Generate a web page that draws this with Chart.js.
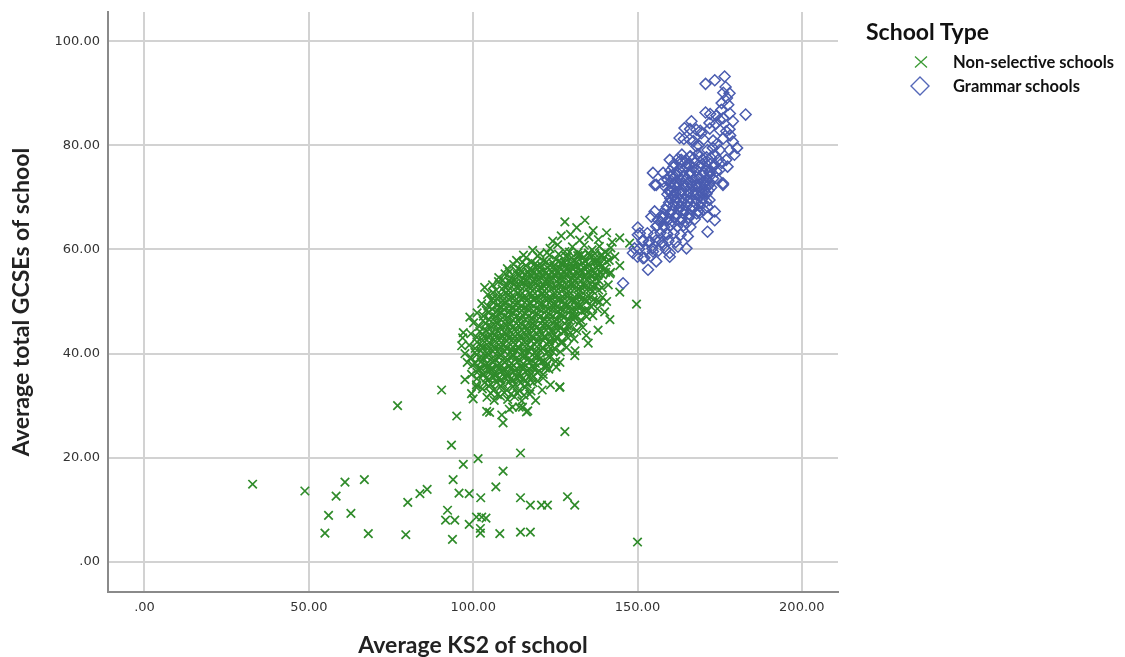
<!DOCTYPE html>
<html>
<head>
<meta charset="utf-8">
<title>Average KS2 vs GCSE by school type</title>
<script src="https://cdn.jsdelivr.net/npm/chart.js@4.4.1/dist/chart.umd.min.js"></script>
<style>
  html, body { margin: 0; padding: 0; background: #fff; }
  #wrap { position: relative; width: 1125px; height: 657px; }
  #legend { position: absolute; left: 0; top: 0; font-family: Lato, "Open Sans", sans-serif; color: #111; }
  #legend .title { position: absolute; left: 866px; top: 17px; font-size: 23px; font-weight: bold; line-height: 28px; white-space: nowrap; }
  #legend .item { position: absolute; left: 953px; font-size: 16.5px; font-weight: bold; line-height: 20px; white-space: nowrap; }
  #legend svg { position: absolute; }
</style>
</head>
<body>
<div id="wrap">
  <canvas id="scatterChart"></canvas>
  <div id="legend">
    <div class="title">School Type</div>
    <svg style="left:913px;top:54px" width="16" height="16"><path d="M2 2.5 L14 13.5 M14 2.5 L2 13.5" stroke="#3a9a33" stroke-width="1.3" fill="none"/></svg>
    <div class="item" style="top:52px">Non-selective schools</div>
    <svg style="left:909px;top:75px" width="22" height="22"><path d="M11 2 L20 11 L11 20 L2 11 Z" stroke="#5467b8" stroke-width="1.4" fill="none"/></svg>
    <div class="item" style="top:76px">Grammar schools</div>
  </div>
</div>
<script>
// ===== Data (x = average KS2, y = average total GCSEs) =====
const xTicks = [0, 50, 100, 150, 200];
const yTicks = [0, 20, 40, 60, 80, 100];

// outliers / low tail
const nonSelectiveOutliers = [
  [32.9,14.9],[48.8,13.6],[54.9,5.5],[56.0,8.9],[58.3,12.6],[61.0,15.3],[62.8,9.3],[66.9,15.8],[68.1,5.4],
  [77.0,30.0],[79.5,5.2],[80.1,11.4],[83.8,13.1],[86.0,13.9],[90.4,33.0],[92.2,9.9],[91.6,8.0],[93.7,4.3],
  [93.9,15.8],[95.0,28.0],[93.4,22.4],[94.4,8.0],[95.7,13.2],[97.0,18.7],[98.8,13.1],[98.8,7.2],[101.0,8.6],
  [101.5,19.8],[102.3,12.3],[102.6,8.6],[102.2,6.4],[102.2,5.5],[103.9,8.4],[104.1,28.9],[106.9,14.4],
  [108.1,5.4],[108.7,28.2],[109.1,26.7],[109.1,17.4],[114.4,20.9],[114.4,12.3],[114.4,5.7],[117.4,5.7],
  [117.4,10.9],[120.8,10.9],[122.6,10.9],[127.9,25.0],[128.7,12.5],[130.9,10.9],[150.0,3.8],[126.4,33.6],
  [116.2,28.8],[149.7,49.5],[147.6,61.2],[112.0,29.7],[115.0,29.7],[117.2,32.2],[122.3,37.7],[101.0,33.5]
];

// main cluster, read row by row
const nonSelectiveCluster = [
  [127.9,65.3],[134.0,65.6],[131.5,64.2],[136.5,63.6],
  [126.8,62.6],[129.6,62.9],[132.4,61.8],[135.2,62.4],[138.1,61.9],[140.6,63.2],[144.6,62.2],[124.2,61.6],[142.3,61.4],
  [118.1,59.8],[120.3,59.2],[123.4,60.2],[125.7,60.9],[127.9,59.6],[130.2,60.5],[131.9,59.4],[133.8,60.8],[136.2,59.9],[138.4,60.6],[140.1,59.5],[141.9,60.3],[115.3,58.9],
  [113.2,57.9],[116.1,58.4],[117.8,57.6],[119.6,58.7],[121.4,57.8],[123.2,58.9],[125.1,58.1],[126.9,57.4],[128.7,58.6],[130.6,57.9],[132.4,58.8],[134.1,57.7],[135.9,58.5],[137.8,57.6],[139.6,58.3],[141.4,57.9],[143.1,58.6],
  [110.4,56.3],[112.3,57.1],[114.1,56.2],[116.0,56.9],[117.9,56.1],[119.7,56.8],[121.5,56.0],[123.4,56.9],[125.2,56.2],[127.1,57.0],[128.9,56.3],[130.8,56.8],[132.6,56.0],[134.4,56.7],[136.3,56.1],[138.2,56.9],[140.0,56.2],[141.8,55.6],[144.6,56.9],
  [107.8,54.6],[109.7,55.3],[111.5,54.5],[113.4,55.2],[115.2,54.4],[117.1,55.1],[118.9,54.3],[120.8,55.0],[122.6,54.2],[124.5,55.1],[126.3,54.4],[128.2,55.2],[130.0,54.5],[131.9,55.3],[133.7,54.6],[135.6,55.2],[137.4,54.4],[139.3,55.1],[141.6,55.3],
  [105.9,53.2],[107.7,53.8],[109.6,53.0],[111.4,53.7],[113.3,52.9],[115.1,53.6],[117.0,52.8],[118.8,53.5],[120.7,52.7],[122.5,53.4],[124.4,52.6],[126.2,53.3],[128.1,52.5],[129.9,53.2],[131.8,52.4],[133.6,53.1],[135.5,52.3],[137.3,53.0],[139.2,52.6],[141.1,53.2],[103.5,52.7],
  [104.4,51.3],[106.0,51.7],[107.9,51.0],[109.8,51.6],[111.6,50.9],[113.5,51.5],[115.3,50.8],[117.2,51.4],[119.0,50.7],[120.9,51.3],[122.7,50.6],[124.6,51.2],[126.4,50.5],[128.3,51.1],[130.1,50.4],[132.0,51.0],[133.8,50.3],[135.7,50.9],[137.5,50.2],[139.4,50.8],[144.6,51.8],[106.0,50.6],
  [102.6,49.6],[104.5,49.1],[106.3,49.8],[108.2,49.0],[110.0,49.7],[111.9,48.9],[113.7,49.6],[115.6,48.8],[117.4,49.5],[119.3,48.7],[121.1,49.4],[123.0,48.6],[124.8,49.3],[126.7,48.5],[128.5,49.2],[130.4,48.4],[132.2,49.1],[134.1,48.3],[135.9,49.0],[137.8,48.6],[140.0,48.0],[140.6,50.0],
  [101.2,47.8],[103.1,47.2],[104.9,47.9],[106.8,47.1],[108.6,47.8],[110.5,47.0],[112.3,47.7],[114.2,46.9],[116.0,47.6],[117.9,46.8],[119.7,47.5],[121.6,46.7],[123.4,47.4],[125.3,46.6],[127.1,47.3],[129.0,46.5],[130.8,47.2],[132.7,46.4],[134.5,47.1],[136.4,47.3],[141.6,46.5],[99.0,47.0],
  [100.1,45.9],[101.9,45.2],[103.8,45.8],[105.6,45.1],[107.5,45.7],[109.3,45.0],[111.2,45.6],[113.0,44.9],[114.9,45.5],[116.7,44.8],[118.6,45.4],[120.4,44.7],[122.3,45.3],[124.1,44.6],[126.0,45.2],[127.8,44.5],[129.7,45.1],[131.5,44.4],[133.4,45.0],[138.0,44.5],
  [99.3,43.8],[101.1,43.1],[103.0,43.7],[104.8,43.0],[106.7,43.6],[108.5,42.9],[110.4,43.5],[112.2,42.8],[114.1,43.4],[115.9,42.7],[117.8,43.3],[119.6,42.6],[121.5,43.2],[123.3,42.5],[125.2,43.1],[127.0,42.4],[128.9,43.0],[130.7,42.8],[134.4,43.5],[97.0,44.0],[96.8,43.0],
  [98.8,41.6],[100.6,41.0],[102.5,41.6],[104.3,40.9],[106.2,41.5],[108.0,40.8],[109.9,41.4],[111.7,40.7],[113.6,41.3],[115.4,40.6],[117.3,41.2],[119.1,40.5],[121.0,41.1],[122.8,40.4],[124.7,41.0],[126.5,40.3],[128.4,41.2],[131.0,40.5],[135.0,42.0],[96.5,41.5],
  [97.5,40.0],[99.3,39.2],[101.1,39.8],[103.0,39.1],[104.8,39.7],[106.7,39.0],[108.5,39.6],[110.4,38.9],[112.2,39.5],[114.1,38.8],[115.9,39.4],[117.8,38.7],[119.6,39.3],[121.5,38.6],[123.3,39.2],[125.1,38.5],[126.4,38.3],[130.9,39.6],[98.2,38.3],
  [99.8,37.8],[101.6,37.1],[103.5,37.7],[105.3,37.0],[107.2,37.6],[109.0,36.9],[110.9,37.5],[112.7,36.8],[114.6,37.4],[116.4,36.7],[118.3,37.3],[120.1,36.6],[122.0,37.2],[123.0,37.0],[125.3,37.4],
  [99.5,36.0],[101.1,35.2],[103.0,35.8],[104.8,35.1],[106.7,35.7],[108.5,35.0],[110.4,35.6],[112.2,34.9],[114.1,35.5],[115.9,34.8],[117.8,35.4],[119.6,34.7],[121.3,35.3],[97.5,35.0],[123.5,34.0],
  [101.0,34.0],[102.8,33.2],[104.7,33.8],[106.5,33.1],[108.4,33.7],[110.2,33.0],[112.1,33.6],[113.9,32.9],[115.8,33.5],[117.6,32.8],[121.0,33.0],[126.3,33.5],[99.5,32.3],
  [100.0,31.3],[104.2,31.6],[106.4,31.0],[108.3,31.8],[110.5,31.2],[112.6,31.7],[114.8,30.9],[119.0,31.0],
  [105.0,28.7],[111.0,29.3],[114.0,29.7],[116.6,29.0]
];

// denser core between the rows above
const nonSelectiveCore = [
  [122.5,59.4],[126.0,59.1],[129.3,59.5],[132.9,59.0],[135.1,59.3],[137.0,59.2],[139.1,59.0],[141.0,59.1],
  [115.0,57.5],[118.9,57.3],[122.3,57.6],[124.2,57.4],[126.0,57.7],[127.8,57.5],[129.7,57.3],[131.5,57.6],[133.3,57.4],[135.0,57.2],[136.9,57.5],[138.7,57.3],[140.6,57.6],
  [111.0,55.7],[113.0,55.9],[114.8,55.6],[116.6,55.8],[118.4,55.5],[120.2,55.7],[122.0,55.4],[123.9,55.8],[125.7,55.5],[127.6,55.9],[129.4,55.6],[131.2,55.8],[133.1,55.5],[134.9,55.7],[136.8,55.4],[138.6,55.8],[140.3,55.6],
  [109.0,54.1],[110.8,53.9],[112.6,54.2],[114.4,53.8],[116.3,54.1],[118.1,53.9],[119.9,54.2],[121.8,53.8],[123.6,54.1],[125.4,53.9],[127.2,54.2],[129.1,53.8],[130.9,54.1],[132.8,53.9],[134.6,54.2],[136.4,53.8],[138.3,54.0],
  [107.0,52.2],[108.8,52.4],[110.7,52.1],[112.5,52.3],[114.3,52.0],[116.1,52.4],[118.0,52.1],[119.8,52.3],[121.6,52.0],[123.5,52.4],[125.3,52.1],[127.1,52.3],[129.0,52.0],[130.8,52.4],[132.7,52.1],[134.5,52.3],[136.4,52.0],[138.2,52.2],
  [105.5,50.2],[107.2,50.5],[109.0,50.1],[110.8,50.4],[112.7,50.1],[114.5,50.5],[116.3,50.2],[118.2,50.4],[120.0,50.1],[121.8,50.5],[123.7,50.2],[125.5,50.4],[127.3,50.1],[129.2,50.5],[131.0,50.2],[132.9,50.4],[134.7,50.1],[136.6,50.3],[138.5,49.9],
  [104.0,48.3],[105.7,48.6],[107.5,48.2],[109.3,48.5],[111.1,48.1],[113.0,48.4],[114.8,48.2],[116.6,48.5],[118.5,48.1],[120.3,48.4],[122.1,48.2],[124.0,48.5],[125.8,48.1],[127.6,48.4],[129.5,48.2],[131.3,48.5],[133.2,48.1],[135.0,48.3],
  [103.0,46.3],[104.8,46.5],[106.6,46.2],[108.4,46.5],[110.3,46.1],[112.1,46.4],[113.9,46.2],[115.8,46.5],[117.6,46.1],[119.4,46.4],[121.3,46.2],[123.1,46.5],[124.9,46.1],[126.8,46.4],[128.6,46.2],[130.4,46.5],[132.3,46.0],
  [102.0,44.2],[103.9,44.5],[105.7,44.1],[107.5,44.4],[109.4,44.1],[111.2,44.4],[113.0,44.2],[114.9,44.5],[116.7,44.1],[118.5,44.4],[120.4,44.2],[122.2,44.5],[124.0,44.1],[125.9,44.4],[127.7,44.2],[129.6,44.0],
  [101.2,42.2],[103.0,42.5],[104.8,42.1],[106.7,42.4],[108.5,42.1],[110.3,42.4],[112.2,42.2],[114.0,42.5],[115.8,42.1],[117.7,42.4],[119.5,42.2],[121.3,42.5],[123.2,42.1],[125.0,42.4],[126.9,42.0],
  [100.5,40.2],[102.3,40.5],[104.1,40.1],[106.0,40.4],[107.8,40.1],[109.6,40.4],[111.5,40.2],[113.3,40.5],[115.1,40.1],[117.0,40.4],[118.8,40.2],[120.6,40.5],[122.5,40.1],[124.3,40.3],
  [100.6,38.1],[102.4,38.4],[104.2,38.0],[106.1,38.3],[107.9,38.0],[109.7,38.3],[111.6,38.1],[113.4,38.4],[115.2,38.0],[117.1,38.3],[118.9,38.1],[120.7,38.4],[122.6,38.0],
  [101.2,36.4],[103.0,36.1],[104.9,36.5],[106.7,36.2],[108.5,36.5],[110.4,36.1],[112.2,36.4],[114.0,36.2],[115.9,36.5],[117.7,36.1],[119.5,36.4],[121.3,36.0],
  [103.5,34.4],[105.4,34.1],[107.2,34.5],[109.0,34.2],[110.9,34.5],[112.7,34.1],[114.5,34.4],[116.4,34.2],[118.2,34.4],
  [105.3,32.4],[107.4,32.1],[109.5,32.5],[111.5,32.2],[113.4,32.4],[115.5,32.0]
];

// darkest part of the cloud
const nonSelectiveDense = [
  [128.2,58.7],[130.0,58.4],[131.8,58.8],[133.6,58.5],[135.4,58.9],[137.2,58.4],[139.0,58.7],
  [119.0,56.6],[120.8,56.9],[122.6,56.5],[124.5,56.8],[126.4,56.4],[128.1,56.9],[129.9,56.6],[131.7,56.8],[133.6,56.5],[135.4,56.9],[137.3,56.6],[139.1,56.8],
  [114.0,54.9],[115.9,55.2],[117.8,54.8],[119.5,55.1],[121.4,54.7],[123.2,55.0],[125.1,54.8],[126.9,55.1],[128.8,54.7],[130.6,55.0],[132.5,54.8],[134.3,55.1],[136.1,54.7],[138.0,55.0],
  [110.5,53.0],[112.4,53.3],[114.2,52.9],[116.1,53.2],[117.9,52.8],[119.7,53.1],[121.6,52.9],[123.4,53.2],[125.3,52.8],[127.1,53.1],[129.0,52.9],[130.8,53.2],[132.7,52.8],[134.5,53.1],[136.3,52.9],
  [108.8,51.0],[110.7,51.3],[112.5,50.9],[114.4,51.2],[116.2,50.8],[118.1,51.1],[119.9,50.9],[121.8,51.2],[123.6,50.8],[125.5,51.1],[127.3,50.9],[129.2,51.2],[131.0,50.8],[132.9,51.1],[134.7,50.9],
  [107.3,49.2],[109.1,49.5],[111.0,49.1],[112.8,49.4],[114.7,49.0],[116.5,49.3],[118.4,49.1],[120.2,49.4],[122.1,49.0],[123.9,49.3],[125.8,49.1],[127.6,49.4],[129.5,49.0],[131.3,49.3],[133.0,49.1],
  [105.7,47.3],[107.6,47.6],[109.4,47.2],[111.3,47.5],[113.1,47.1],[115.0,47.4],[116.8,47.2],[118.7,47.5],[120.5,47.1],[122.4,47.4],[124.2,47.2],[126.1,47.5],[127.9,47.1],[129.8,47.4],[131.6,47.2],
  [104.5,45.3],[106.4,45.6],[108.2,45.2],[110.1,45.5],[111.9,45.1],[113.8,45.4],[115.6,45.2],[117.5,45.5],[119.3,45.1],[121.2,45.4],[123.0,45.2],[124.9,45.5],[126.7,45.1],[128.6,45.3],
  [103.3,43.2],[105.2,43.5],[107.0,43.1],[108.9,43.4],[110.7,43.0],[112.6,43.3],[114.4,43.1],[116.3,43.4],[118.1,43.0],[120.0,43.3],[121.8,43.1],[123.7,43.4],[125.6,43.0],
  [102.7,41.2],[104.6,41.5],[106.4,41.1],[108.3,41.4],[110.1,41.0],[112.0,41.3],[113.8,41.1],[115.7,41.4],[117.5,41.0],[119.4,41.3],[121.2,41.1],[123.1,41.4],
  [102.0,39.2],[103.9,39.5],[105.7,39.1],[107.6,39.4],[109.4,39.0],[111.3,39.3],[113.1,39.1],[115.0,39.4],[116.8,39.0],[118.7,39.3],[120.5,39.1],
  [102.3,37.2],[104.2,37.5],[106.0,37.1],[107.9,37.4],[109.7,37.0],[111.6,37.3],[113.4,37.1],[115.3,37.4],[117.1,37.0],[119.0,37.3],
  [104.0,35.3],[105.9,35.6],[107.7,35.2],[109.6,35.5],[111.4,35.1],[113.3,35.4],[115.1,35.2],[117.0,35.5]
];

const grammarPoints = [
  [170.7,91.8],[173.5,92.5],[176.5,93.2],[176.8,91.2],[177.2,89.1],[182.9,85.9],[170.7,86.3],[175.5,86.8],
  [176.0,85.2],[175.0,84.9],[179.0,84.6],[171.9,84.3],[166.4,84.6],[164.3,83.3],[167.9,83.0],[169.4,82.3],
  [162.8,81.4],[165.9,81.1],[179.0,80.7],[177.0,82.7],[167.9,79.8],[171.3,79.1],[172.9,79.5],[175.0,79.1],
  [178.0,79.1],[179.5,78.2],[177.0,77.2],[177.4,75.9],[159.8,77.2],[163.3,77.2],[165.9,77.8],[168.9,77.8],
  [154.7,74.7],[157.8,74.7],[155.7,72.4],[160.7,74.3],[165.9,74.7],[171.9,74.7],[174.0,73.7],[176.0,72.7],
  [175.0,75.3],[171.3,72.1],[168.9,72.1],[164.9,72.1],[167.9,70.5],[159.8,71.4],[160.8,70.2],[162.3,68.9],
  [163.8,67.6],[166.9,68.2],[168.9,70.2],[171.9,69.5],[171.3,68.2],[173.5,67.3],[168.9,67.0],[171.3,66.3],
  [171.3,63.4],[165.3,62.5],[164.9,60.2],[162.3,60.5],[159.8,59.3],[156.7,61.8],[153.7,61.5],[150.7,63.1],
  [151.7,61.8],[149.1,60.2],[148.6,59.3],[154.7,59.6],[157.8,60.9],[158.8,63.1],[155.7,64.4],[154.2,66.3],
  [156.2,65.7],[157.8,66.3],[145.6,53.5],[151.7,58.3],[153.2,56.1],[155.7,57.7],[159.8,58.6],[150.1,62.8],
  [155.2,72.4],[157.8,73.0],[161.4,72.4],[167.9,72.4],[176.0,72.4],[170.4,71.1],[170.9,69.2],[173.5,65.6],
  [155.2,67.3],[150.1,64.2],[180.3,79.5],[178.2,81.9],[173.8,84.1],
  // dense middle
  [163.5,78.2],[166.1,77.9],[168.4,78.3],[171.0,77.7],[173.6,78.1],
  [161.1,76.4],[163.4,76.7],[165.6,76.2],[167.5,76.6],[169.6,76.3],[171.4,76.8],[173.5,76.2],[175.6,76.6],
  [160.0,75.1],[162.1,74.8],[164.0,75.2],[166.2,74.9],[168.0,75.3],[170.1,74.8],[172.1,75.2],[174.0,75.0],
  [159.1,73.4],[161.0,73.7],[163.1,73.3],[165.0,73.6],[167.1,73.4],[169.0,73.7],[171.1,73.3],[173.0,73.6],
  [158.5,72.0],[160.6,71.8],[162.5,72.2],[164.4,71.9],[166.6,72.1],[168.5,71.8],[170.5,72.2],[172.4,71.9],
  [159.1,70.6],[161.0,70.4],[163.1,70.7],[165.0,70.3],[167.0,70.6],[169.1,70.4],[171.0,70.7],
  [159.6,69.0],[161.5,69.3],[163.4,68.9],[165.5,69.2],[167.6,68.9],[169.5,69.1],
  [158.5,67.6],[160.4,67.4],[162.6,67.7],[164.5,67.3],[166.4,67.6],[168.5,67.4],[170.1,67.6],
  [157.6,66.0],[159.5,65.8],[161.4,66.2],[163.5,65.9],[165.6,66.1],[167.4,65.8],
  [156.0,64.6],[158.1,64.3],[160.0,64.7],[162.1,64.4],[164.0,64.6],[166.1,64.3],
  [153.0,63.1],[155.1,62.8],[157.0,63.2],[159.1,62.9],[161.0,63.1],[163.1,62.8],
  [151.5,61.6],[153.4,61.4],[155.6,61.7],[157.5,61.3],[159.4,61.6],[161.6,61.4],
  [150.5,60.1],[152.6,59.9],[154.5,60.2],[156.4,59.8],[158.6,60.0],
  [150.0,58.6],[152.1,58.4],[154.0,58.7],
  [164.1,81.2],[167.0,80.8],[170.1,81.1],[173.0,80.9],[176.1,81.3],
  [166.0,83.1],[169.1,82.8],[172.0,83.2],[175.1,82.9],[178.0,83.1],
  [168.6,80.0],[174.1,80.2],[172.1,86.0],[174.0,85.7],[178.1,86.1],
  [175.6,88.1],[177.6,87.8],[176.1,90.1],[178.0,90.0],
  // darkest blue block
  [162.3,77.4],[164.8,77.2],[167.2,77.5],[169.8,77.3],[172.3,77.6],[174.6,77.2],
  [160.9,75.8],[162.9,75.6],[164.9,75.9],[166.9,75.7],[168.9,76.0],[170.9,75.6],[172.9,75.9],
  [159.9,74.1],[161.8,74.3],[163.9,74.0],[165.9,74.2],[167.9,73.9],[169.9,74.2],[171.9,74.0],
  [159.9,72.7],[161.9,72.9],[163.9,72.6],[165.9,72.8],[167.9,72.5],[169.9,72.8],[171.9,72.6],
  [159.6,71.2],[161.6,71.0],[163.6,71.3],[165.6,71.1],[167.6,71.4],[169.6,71.0],[171.6,71.3],
  [160.0,69.8],[162.1,70.0],[164.0,69.7],[166.1,69.9],[168.0,69.6],[170.0,69.9],
  [158.9,68.2],[160.9,68.4],[162.9,68.1],[164.9,68.3],[166.9,68.0],[168.9,68.3],
  [158.0,66.8],[160.0,67.0],[162.0,66.7],[164.0,66.9],[166.0,66.6],[168.0,66.9],
  [157.0,65.3],[159.0,65.5],[161.0,65.2],[163.0,65.4],[165.0,65.1]
];

// ===== Chart =====
const toXY = pts => pts.map(p => ({ x: p[0], y: p[1] }));
const fmtTick = v => (v === 0 ? '.00' : v.toFixed(2));

const ctx = document.getElementById('scatterChart');

new Chart(ctx, {
  type: 'scatter',
  data: {
    datasets: [
      {
        label: 'Grammar schools',
        data: toXY(grammarPoints),
        pointStyle: 'rectRot',
        pointRadius: 5.5,
        pointHoverRadius: 5.5,
        borderWidth: 1.5,
        borderColor: '#4a5cb0',
        backgroundColor: 'rgba(0,0,0,0)'
      },
      {
        label: 'Non-selective schools',
        data: toXY(nonSelectiveOutliers.concat(nonSelectiveCluster, nonSelectiveCore, nonSelectiveDense)),
        pointStyle: 'crossRot',
        pointRadius: 6,
        pointHoverRadius: 6,
        borderWidth: 1.7,
        borderColor: '#2f8b2a',
        backgroundColor: '#2f8b2a'
      }
    ]
  },
  options: {
    responsive: true,
    maintainAspectRatio: false,
    animation: false,
    events: [],
    layout: { padding: { top: 12, right: 287, bottom: 0, left: 0 } },
    plugins: {
      legend: { display: false },
      tooltip: { enabled: false }
    },
    scales: {
      x: {
        type: 'linear',
        min: -11.1,
        max: 211,
        afterBuildTicks: scale => { scale.ticks = xTicks.map(v => ({ value: v })); },
        afterFit: scale => { scale.height = 65; scale.paddingLeft = 0; scale.paddingRight = 0; },
        grid: { color: '#d2d2d2', lineWidth: 2, drawTicks: false },
        border: { color: '#8a8a8a', width: 2 },
        ticks: {
          padding: 8,
          color: '#333',
          font: { family: 'DejaVu Sans', size: 13 },
          maxRotation: 0,
          callback: v => fmtTick(v)
        },
        title: {
          display: true,
          text: 'Average KS2 of school',
          color: '#222',
          font: { family: 'Lato', size: 23, weight: 'bold', lineHeight: 1 },
          padding: { top: 0, bottom: 0 }
        }
      },
      y: {
        type: 'linear',
        min: -5.8,
        max: 105.6,
        afterBuildTicks: scale => { scale.ticks = yTicks.map(v => ({ value: v })); },
        afterFit: scale => { scale.width = 108; scale.paddingTop = 0; scale.paddingBottom = 0; },
        grid: { color: '#d2d2d2', lineWidth: 2, drawTicks: false },
        border: { color: '#8a8a8a', width: 2 },
        ticks: {
          padding: 8,
          color: '#333',
          font: { family: 'DejaVu Sans', size: 13 },
          callback: v => fmtTick(v)
        },
        title: {
          display: true,
          text: 'Average total GCSEs of school',
          color: '#222',
          font: { family: 'Lato', size: 23, weight: 'bold', lineHeight: 1 },
          padding: { top: 10.5, bottom: 0 }
        }
      }
    }
  }
});
</script>
</body>
</html>
